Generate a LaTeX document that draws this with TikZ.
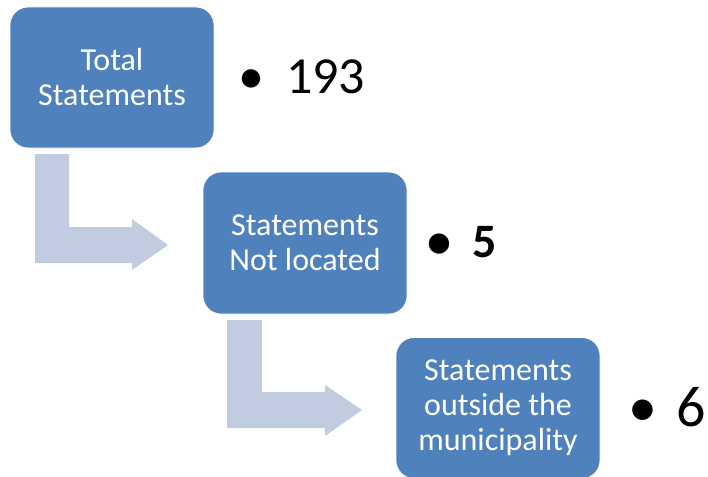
\documentclass[tikz,border=0pt]{standalone}
\usepackage{fontspec}
\setmainfont{Carlito}
\definecolor{boxblue}{HTML}{4F81BD}
\definecolor{arrowgray}{HTML}{C2CCE0}
\begin{document}
\begin{tikzpicture}[x=1pt,y=-1pt,
  stepbox/.style={fill=boxblue, draw=white, line width=0.8pt, rounded corners=18pt,
    minimum width=204pt, minimum height=141pt, inner sep=0pt, text=white, align=center,
    font=\fontsize{32}{35}\selectfont},
  bentarrow/.style={fill=arrowgray, draw=none},
  bulletmark/.style={anchor=base, inner sep=0pt},
  countnum/.style={anchor=base west, inner sep=0pt}]
\useasboundingbox (0,0) rectangle (708,476);
% boxes
\node[stepbox] (b1) at (112,77.5) {Total\\Statements};
\node[stepbox, minimum height=142pt] (b2) at (305,243) {Statements\\Not located};
\node[stepbox] (b3) at (498,408) {Statements\\outside the\\municipality};
% bent arrows
\fill[bentarrow] (35,154) -- (69,154) -- (69,227) -- (132,227) -- (132,219) -- (168,245)
  -- (132,270) -- (132,263) -- (35,263) -- cycle;
\fill[bentarrow] (227,320) -- (262,320) -- (262,392) -- (325,392) -- (325,385) -- (362,410)
  -- (325,436) -- (325,428) -- (227,428) -- cycle;
% bullets and counts
\node[bulletmark, font=\fontsize{52}{58}\selectfont] (d1) at (251,94) {•};
\node[countnum, font=\fontsize{52}{58}\selectfont] (n1) at (286,94) {193};
\node[bulletmark, font=\fontsize{48}{54}\selectfont\bfseries] (d2) at (439.5,257) {•};
\node[countnum, font=\fontsize{48}{54}\selectfont\bfseries] (n2) at (472,257) {5};
\node[bulletmark, font=\fontsize{58}{64}\selectfont] (d3) at (642.5,426) {•};
\node[countnum, font=\fontsize{58}{64}\selectfont] (n3) at (676,426) {6};
\end{tikzpicture}
\end{document}
